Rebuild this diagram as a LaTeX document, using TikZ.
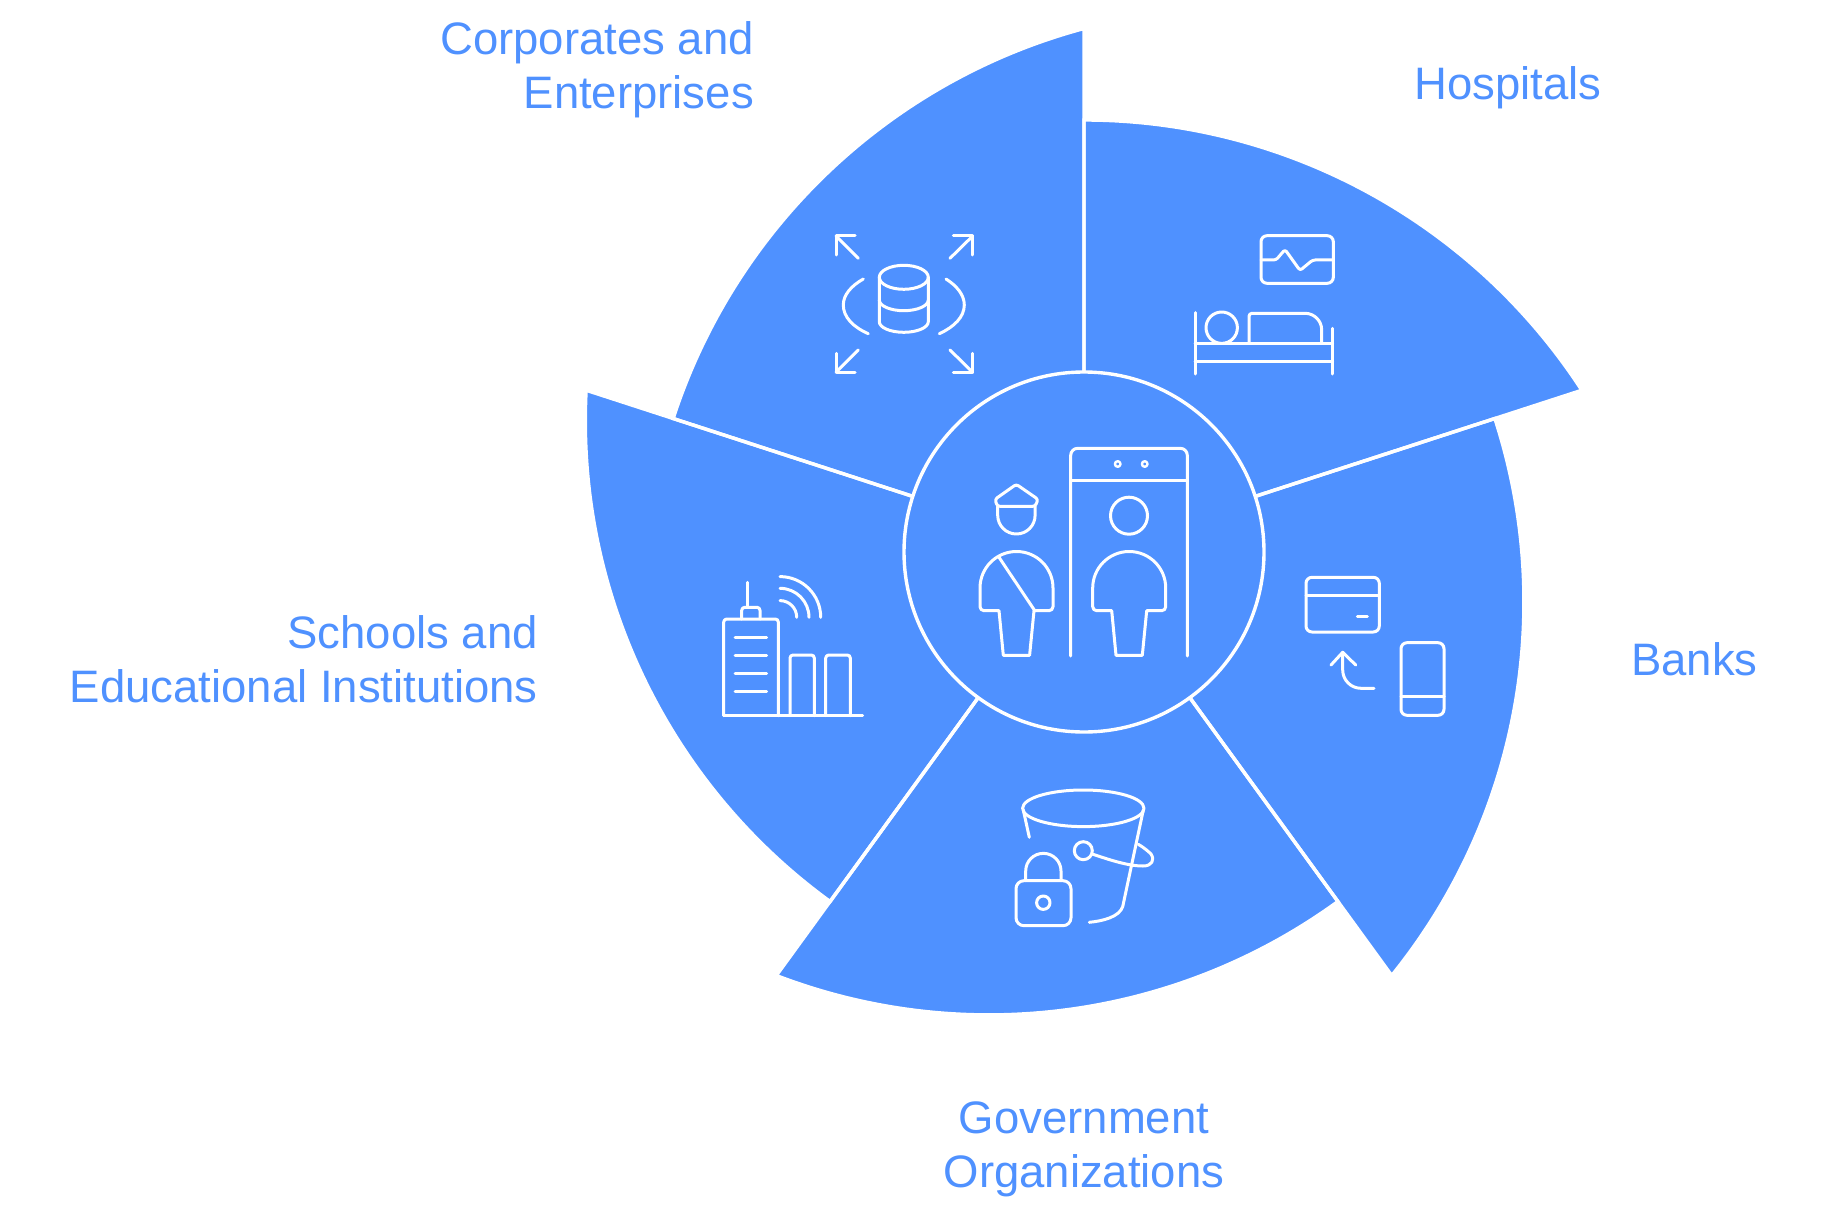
\documentclass[tikz,border=0pt]{standalone}
\usepackage{fontspec}
\setmainfont{Liberation Sans}
\definecolor{brandblue}{HTML}{4F91FF}
\tikzset{
  wedgefill/.style={fill=brandblue},
  wedgeline/.style={draw=white,line width=3.4pt,line join=miter},
  icon/.style={draw=white,line width=3pt,line cap=round,line join=round},
  lab/.style={text=brandblue,inner sep=0pt,font=\fontsize{45.5}{54}\selectfont},
}
\newcommand{\wedgepath}{(0,-432) arc[start angle=-90,end angle=-33.02,radius=593.8] -- (0,0) -- cycle}
\newcommand{\personbody}{(1092.7,588) arc[start angle=180,end angle=360,radius=36.5] -- (1165.7,606.7) arc[start angle=0,end angle=90,radius=4] -- (1146.7,610.7) -- (1142.3,655.3) -- (1116,655.3) -- (1111.7,610.7) -- (1096.7,610.7) arc[start angle=90,end angle=180,radius=4] -- cycle}
\begin{document}
\begin{tikzpicture}[x=1pt,y=1pt,yscale=-1]
\useasboundingbox (0,0) rectangle (1840,1217);
% wedges
\foreach \k in {0,...,4}{
  \begin{scope}[shift={(1084,552)},rotate=72*\k]
    \fill[wedgefill] \wedgepath;
  \end{scope}
}
\foreach \k in {0,...,4}{
  \begin{scope}[shift={(1084,552)},rotate=72*\k]
    \draw[wedgeline] \wedgepath;
  \end{scope}
}
\node[circle,fill=brandblue,draw=white,line width=3.4pt,minimum size=360pt,inner sep=0pt] (hub) at (1084,552) {};
% centre icon: gate
\draw[icon,rounded corners=7pt] (1070.7,656) -- (1070.7,448.3) -- (1187.3,448.3) -- (1187.3,656);
\draw[icon] (1070.7,480) -- (1187.3,480);
\draw[icon,line width=2.4pt] (1117.7,464) circle[radius=2.8];
\draw[icon,line width=2.4pt] (1144.7,464) circle[radius=2.8];
\draw[icon] (1129,515.7) circle[radius=18.5];
\draw[icon] \personbody;
% guard
\begin{scope}[xshift=-112.7pt]
\draw[icon] \personbody;
\end{scope}
\draw[icon] (999,557.3) -- (1034.3,610);
\draw[icon] (997.7,506.3) -- (997.7,515.3) arc[start angle=180,end angle=0,radius=18.7] -- (1035.1,506.3);
\draw[icon,rounded corners=2.5pt] (997.3,506.3) -- (995,499.3) -- (1016.3,484.3) -- (1038,499.3) -- (1035.3,506.3) -- cycle;
% hospital icon
\draw[icon,rounded corners=6pt] (1261,235.7) rectangle (1333.3,283.3);
\draw[icon,rounded corners=2.5pt] (1261,260) -- (1276,260) -- (1285,249.5) -- (1300,270.5) -- (1312.7,260) -- (1333.3,260);
\draw[icon] (1195,312.7) -- (1195,374);
\draw[icon] (1332.7,328.3) -- (1332.7,374);
\draw[icon] (1195,343.3) -- (1332.7,343.3);
\draw[icon] (1195,361.7) -- (1332.7,361.7);
\draw[icon] (1221.7,327.7) circle[radius=15.7];
\draw[icon] (1249,343.3) -- (1249,316.3) arc[start angle=180,end angle=270,radius=3] -- (1305,313.3) arc[start angle=270,end angle=360,radius=16.7] -- (1321.7,343.3);
% bank icon
\draw[icon,rounded corners=6pt] (1306,577.3) rectangle (1379.3,632);
\draw[icon] (1306,595.7) -- (1379.3,595.7);
\draw[icon] (1357.3,616.7) -- (1367.3,616.7);
\draw[icon,rounded corners=6pt] (1401,642.7) rectangle (1444,715.3);
\draw[icon] (1401,696.7) -- (1444,696.7);
\draw[icon] (1331,665) -- (1342.7,652.3) -- (1355.7,665);
\draw[icon] (1342.7,652.3) -- (1342.7,670) arc[start angle=180,end angle=90,radius=18.3] -- (1374,688.3);
% government icon
\draw[icon] (1083.3,808.3) ellipse[x radius=60.7,y radius=18.3];
\draw[icon] (1023.3,810) -- (1029.3,837.3);
\draw[icon] (1143.3,810) -- (1122.7,906.7) .. controls (1119.3,916.7) and (1103.3,921) .. (1089.3,922.3);
\draw[icon] (1083.3,850.7) circle[radius=9];
\draw[icon] (1092.2,854) .. controls (1110,860) and (1128,866) .. (1143,866) .. controls (1152,866) and (1155,860) .. (1151,854) .. controls (1148,851) and (1143,847) .. (1138.3,844.3);
\draw[icon,rounded corners=8pt] (1016,880.7) rectangle (1071,925.7);
\draw[icon] (1025.7,880.7) -- (1025.7,871) arc[start angle=180,end angle=360,radius=17.65] -- (1061,880.7);
\draw[icon] (1043.3,902.7) circle[radius=6.7];
% school icon
\draw[icon] (747.7,582.3) -- (747.7,607.3);
\draw[icon,rounded corners=3pt] (741.7,619) -- (741.7,607.3) -- (760,607.3) -- (760,619);
\draw[icon,rounded corners=3pt] (723.7,715.7) -- (723.7,619) -- (778.3,619) -- (778.3,715.7);
\foreach \yy in {637.3,655.3,673.3,691.3}{\draw[icon] (735,\yy) -- (766.7,\yy);}
\draw[icon] (723.7,715.7) -- (862.7,715.7);
\draw[icon,rounded corners=3pt] (790,715.7) -- (790,655) -- (814.3,655) -- (814.3,715.7);
\draw[icon,rounded corners=3pt] (825.7,715.7) -- (825.7,655) -- (850.3,655) -- (850.3,715.7);
\foreach \rr in {16.7,29,40.7}{\draw[icon] (780,617.3-\rr) arc[start angle=270,end angle=360,radius=\rr];}
% corporate icon
\draw[icon] (903.8,277.3) ellipse[x radius=24.5,y radius=12];
\draw[icon] (879.3,277.3) -- (879.3,321.7) arc[start angle=180,end angle=0,x radius=24.5,y radius=10.6] -- (928.3,277.3);
\draw[icon] (879.3,300) arc[start angle=180,end angle=0,x radius=24.5,y radius=10.7];
\draw[icon] (863.3,279) .. controls (851,286) and (843.3,295) .. (843.3,305) .. controls (843.3,317) and (853,327) .. (868.3,333.7);
\draw[icon] (946,279) .. controls (957,286) and (964.3,295) .. (964.3,305) .. controls (964.3,317) and (954,327) .. (939.3,333.7);
\draw[icon] (858.3,258.3) -- (836,236); \draw[icon] (855,236) -- (836,236) -- (836,255);
\draw[icon] (950,258.3) -- (972.7,236); \draw[icon] (953.3,236) -- (972.7,236) -- (972.7,255);
\draw[icon] (858.3,350) -- (836,372.3); \draw[icon] (836,353.3) -- (836,372.3) -- (855,372.3);
\draw[icon] (950,350) -- (972.7,372.3); \draw[icon] (972.7,353.3) -- (972.7,372.3) -- (953.3,372.3);
% labels
\node[lab,anchor=east,align=right] (corp) at (754,69.7) {Corporates and\\Enterprises};
\node[lab,anchor=west] (hosp) at (1414,87.7) {Hospitals};
\node[lab,anchor=west] (bank) at (1631,659) {Banks};
\node[lab,anchor=center,align=center] (gov) at (1084,1149.7) {Government\\Organizations};
\node[lab,anchor=east,align=right] (school) at (538,659.5) {Schools and\\Educational Institutions};
\end{tikzpicture}
\end{document}
